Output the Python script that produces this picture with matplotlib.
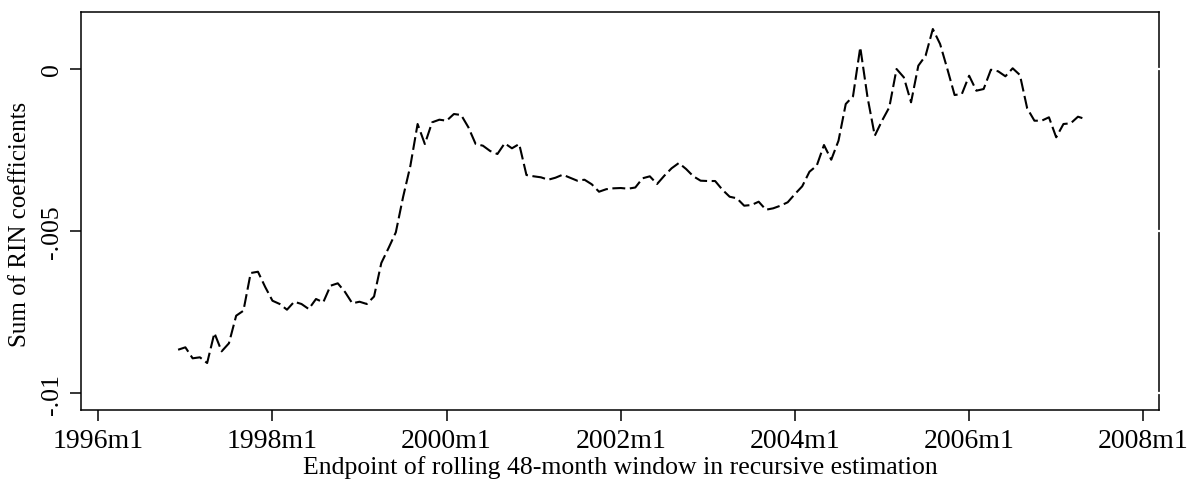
import numpy as np
import pandas as pd
import matplotlib
matplotlib.use("Agg")
import matplotlib.pyplot as plt
from matplotlib.transforms import blended_transform_factory

# --- data: sum of RIN coefficients, rolling 48-month window endpoints ---
start_month = "1996-12"
end_month = "2007-05"
rin_sum = [
    -0.008656, -0.008582, -0.008921, -0.008890, -0.009066, -0.008141, -0.008705,
    -0.008458, -0.007607, -0.007453, -0.006291, -0.006251, -0.006722, -0.007145,
    -0.007246, -0.007422, -0.007176, -0.007246, -0.007401, -0.007092, -0.007194,
    -0.006682, -0.006608, -0.006876, -0.007225, -0.007176, -0.007246, -0.007015,
    -0.005982, -0.005520, -0.005036, -0.003947, -0.002991, -0.001696, -0.002313,
    -0.001644, -0.001563, -0.001594, -0.001388, -0.001418, -0.001798, -0.002313,
    -0.002365, -0.002529, -0.002621, -0.002291, -0.002445, -0.002313, -0.003269,
    -0.003309, -0.003340, -0.003414, -0.003352, -0.003259, -0.003352, -0.003444,
    -0.003414, -0.003555, -0.003784, -0.003706, -0.003679, -0.003670, -0.003691,
    -0.003654, -0.003370, -0.003309, -0.003546, -0.003290, -0.003062, -0.002899,
    -0.003084, -0.003309, -0.003444, -0.003454, -0.003454, -0.003722, -0.003938,
    -0.003987, -0.004215, -0.004194, -0.004092, -0.004339, -0.004296, -0.004215,
    -0.004110, -0.003855, -0.003617, -0.003167, -0.002982, -0.002344, -0.002797,
    -0.002211, -0.001079, -0.000842, 0.000669, -0.000873, -0.002057, -0.001594,
    -0.001181, 0.000000, -0.000256, -0.001027, 0.000102, 0.000410, 0.001233,
    0.000771, 0.000000, -0.000802, -0.000771, -0.000207, -0.000669, -0.000617,
    -0.000022, -0.000071, -0.000225, 0.000022, -0.000185, -0.001212, -0.001594,
    -0.001594, -0.001489, -0.002106, -0.001696, -0.001674, -0.001471, -0.001542,
]
x_tick_labels = ["1996m1", "1998m1", "2000m1", "2002m1", "2004m1", "2006m1", "2008m1"]
y_ticks = [0.0, -0.005, -0.01]
y_tick_labels = ["0", "-.005", "-.01"]

# months counted from 1996m1 (Stata %tm style)
periods = pd.period_range(start_month, end_month, freq="M")
months = np.array([(p.year - 1996) * 12 + p.month - 1 for p in periods])
x_ticks = [(int(s[:4]) - 1996) * 12 for s in x_tick_labels]

plt.rcParams["font.family"] = ["Liberation Serif", "DejaVu Serif"]

fig = plt.figure(figsize=(11.88, 4.81), dpi=100)
ax = fig.add_axes([0.0682, 0.1449, 0.9076, 0.8287])

ax.plot(months, rin_sum, color="black", linewidth=1.5, linestyle=(0, (6.2, 2.2)))

ax.set_xlim(-2.38, 146.2)
ax.set_ylim(-0.010524, 0.001767)

ax.set_xticks(x_ticks)
ax.set_xticklabels(x_tick_labels)
ax.set_yticks(y_ticks)
ax.set_yticklabels(y_tick_labels, rotation=90, va="center")

ax.tick_params(axis="both", direction="out", length=8, width=1.1, color="black")
ax.tick_params(axis="x", pad=5, labelsize=20)
ax.tick_params(axis="y", pad=5, labelsize=18.5)

for sp in ax.spines.values():
    sp.set_linewidth(1.1)

# Stata leaves small gaps in the right frame at the y ticks
trans = blended_transform_factory(ax.transAxes, ax.transData)
for t in y_ticks:
    ax.plot([0.995, 1.005], [t, t], transform=trans, color="white",
            linewidth=1.6, clip_on=False, zorder=5)

ax.set_ylabel("Sum of RIN coefficients", fontsize=18)
ax.yaxis.set_label_coords(-0.046, 0.47)
ax.set_xlabel("Endpoint of rolling 48-month window in recursive estimation",
              fontsize=18.5)
ax.xaxis.set_label_coords(0.5, -0.113)

fig.savefig("out.png", dpi=100)
